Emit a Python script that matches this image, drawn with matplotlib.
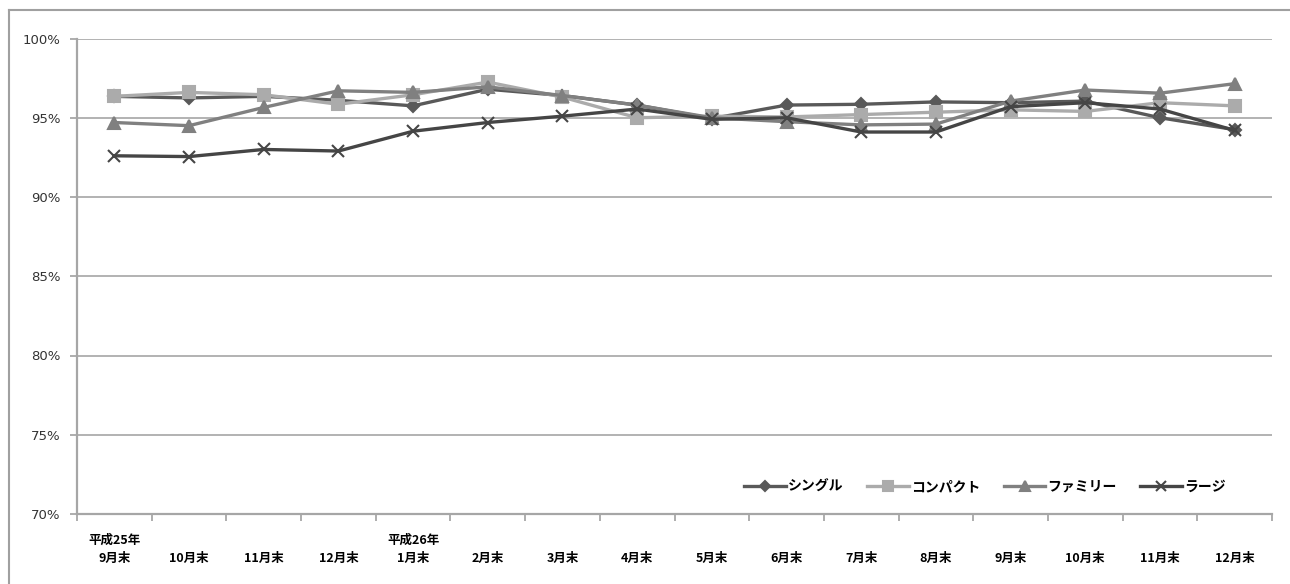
import matplotlib
matplotlib.use("Agg")
import matplotlib.pyplot as plt
from matplotlib.lines import Line2D

plt.rcParams['font.family'] = ['Noto Sans CJK JP', 'DejaVu Sans']

# Month-end labels (Heisei 25/9 through Heisei 26/12)
months = ["平成25年\n9月末", "\n10月末", "\n11月末", "\n12月末", "平成26年\n1月末",
          "\n2月末", "\n3月末", "\n4月末", "\n5月末", "\n6月末", "\n7月末",
          "\n8月末", "\n9月末", "\n10月末", "\n11月末", "\n12月末"]

# Occupancy rate (%) per room type
single = [96.35, 96.25, 96.35, 96.1, 95.75, 96.8, 96.4, 95.8, 94.95, 95.8, 95.85,
          96.0, 95.95, 96.05, 95.0, 94.25]
compact = [96.35, 96.6, 96.45, 95.85, 96.45, 97.25, 96.3, 95.0, 95.1, 95.05, 95.2,
           95.35, 95.5, 95.4, 95.95, 95.75]
family = [94.7, 94.5, 95.65, 96.7, 96.6, 96.95, 96.4, 95.8, 95.0, 94.75, 94.55,
          94.6, 96.05, 96.75, 96.55, 97.15]
large = [92.6, 92.55, 93.0, 92.9, 94.15, 94.7, 95.1, 95.55, 94.9, 95.0, 94.1,
         94.1, 95.7, 95.95, 95.55, 94.2]

series_names = ["シングル", "コンパクト", "ファミリー", "ラージ"]
yticks = [70, 75, 80, 85, 90, 95, 100]

fig = plt.figure(figsize=(12.9, 5.84), dpi=100)
ax = fig.add_axes([77 / 1290, 70 / 584, (1272 - 77) / 1290, (514 - 38.5) / 584])

x = list(range(len(months)))
styles = [
    (single, "#595959", "D", 6.5),
    (compact, "#ababab", "s", 8.5),
    (family, "#808080", "^", 8.5),
    (large, "#454545", "x", 8.5),
]
for (vals, color, marker, ms), name in zip(styles, series_names):
    ax.plot(x, vals, color=color, lw=2.4, marker=marker, markersize=ms,
            markeredgecolor=color, markerfacecolor=color, markeredgewidth=1.5,
            label=name)

ax.set_xlim(-0.5, len(months) - 0.5)
ax.set_ylim(70, 100)
ax.set_yticks(yticks)
ax.set_yticklabels([f"{v}%" for v in yticks], fontsize=9.5, color="#333333",
                   family=['DejaVu Sans'])
ax.yaxis.grid(True, color="#a6a6a6", lw=1.2)
ax.set_axisbelow(True)

ax.set_xticks(x)
ax.set_xticklabels(months, fontsize=9, fontweight="bold", linespacing=1.55)
ax.set_xticks([i - 0.5 for i in range(len(months) + 1)], minor=True)
ax.tick_params(axis="x", which="major", length=0, pad=14)
ax.tick_params(axis="x", which="minor", length=5, color="#a0a0a0", width=1.2)
ax.tick_params(axis="y", length=5, color="#a0a0a0", width=1.2, pad=7)

for side in ("top", "right"):
    ax.spines[side].set_visible(False)
for side in ("left", "bottom"):
    ax.spines[side].set_color("#a6a6a6")
    ax.spines[side].set_linewidth(1.6)

leg = ax.legend(loc="center right", bbox_to_anchor=(0.966, 0.057), ncol=4,
                frameon=False, fontsize=10, handlelength=3.0, handletextpad=0.15,
                columnspacing=1.7, borderaxespad=0, markerscale=0.85)
for t in leg.get_texts():
    t.set_fontweight("bold")

# outer chart frame
fig.add_artist(Line2D([9 / 1290, 9 / 1290], [0, 1 - 10 / 584], color="#a0a0a0",
                      lw=1.5, transform=fig.transFigure))
fig.add_artist(Line2D([9 / 1290, 1], [1 - 10 / 584, 1 - 10 / 584], color="#a0a0a0",
                      lw=1.5, transform=fig.transFigure))

fig.savefig("out.png", dpi=100)
